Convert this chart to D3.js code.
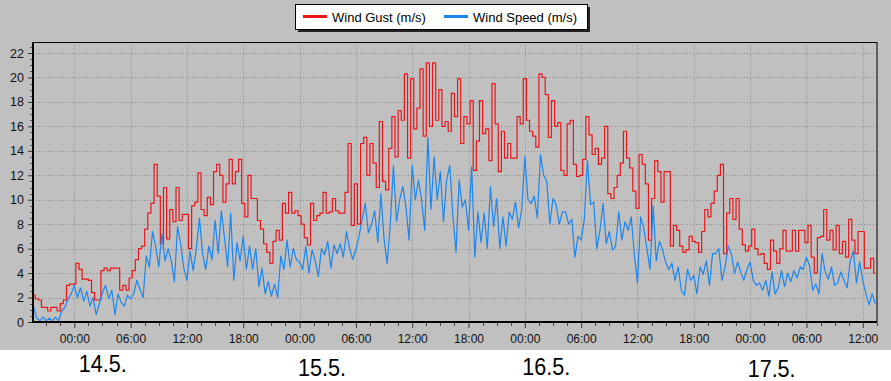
<!DOCTYPE html>
<html><head><meta charset="utf-8">
<script src="https://cdn.jsdelivr.net/npm/d3@7"></script>
<style>
html,body{margin:0;padding:0;background:#fff;}
svg{display:block;font-family:"Liberation Sans",Arial,sans-serif;}
</style></head><body>
<svg id="chart" width="891" height="381"></svg>
<script>
// ---------- data ----------
const seriesNames = ["Wind Gust (m/s)", "Wind Speed (m/s)"];
const seriesColors = ["#ec1418", "#1c86f0"];
const firstSample = "2014-05-13 19:40";   // 20-minute samples
const sampleStepMinutes = 20;
const gust = [
 2.2,1.9,1.8,1.2,1.2,0.9,1.2,1.2,0.9,1.5,1.8,3.0,3.1,3.1,
 4.8,4.3,3.5,3.5,3.4,2.4,1.8,1.8,4.2,4.4,4.2,4.4,4.4,4.4,2.6,3.0,2.6,
 3.6,4.2,5.1,6.0,6.2,7.6,8.9,9.7,12.9,10.3,6.4,11.0,6.8,9.2,8.2,11.0,8.3,8.8,8.8,6.0,9.5,9.8,12.2,
 9.2,8.7,10.2,9.6,12.3,12.9,12.0,9.8,11.3,13.3,11.3,12.3,13.3,9.7,8.6,12.0,10.1,10.1,8.3,7.6,
 6.4,5.7,4.8,6.6,7.5,6.7,9.7,8.9,10.6,8.9,9.1,8.7,8.0,6.9,6.3,9.7,8.3,8.7,8.9,10.6,
 8.9,9.0,10.1,9.1,8.9,8.9,10.6,14.6,7.9,11.3,8.0,14.6,15.1,12.0,
 14.6,13.0,11.0,16.4,11.5,10.8,14.2,16.8,13.5,17.3,16.5,20.3,13.4,19.9,15.8,17.5,20.7,15.2,21.2,16.0,
 21.2,16.5,19.0,16.0,16.4,15.6,18.7,16.8,19.9,14.6,16.8,16.2,18.1,12.4,14.8,18.1,15.4,15.8,13.2,19.5,
 16.2,12.3,15.6,13.4,14.6,13.4,13.4,16.8,16.2,19.9,16.5,15.6,15.2,14.3,20.3,
 20.0,18.6,15.1,18.1,16.0,16.3,12.4,12.0,16.2,16.5,12.9,11.9,12.0,13.3,16.8,15.3,13.7,14.2,12.9,13.4,
 16.0,10.5,10.1,11.0,12.0,13.0,15.6,13.4,12.6,10.7,9.3,13.7,12.9,11.3,6.7,10.1,13.2,12.3,9.8,12.3,
 12.3,6.2,7.9,7.5,6.2,5.7,5.9,7.0,6.6,6.5,5.7,7.4,9.2,8.6,9.7,
 10.7,12.0,12.9,5.6,8.9,10.1,8.4,10.1,7.6,6.3,5.8,6.2,7.6,6.0,5.5,5.6,4.8,4.3,6.7,5.8,
 4.8,6.0,7.5,5.8,5.8,7.5,5.8,7.5,7.5,6.5,7.9,5.3,4.0,6.9,7.0,9.2,6.7,7.5,5.9,7.9,
 5.6,6.6,5.3,8.4,6.7,5.6,7.4,7.4,4.4,4.4,5.2,4.0
];
const speed = [
 1.2,0.3,0.1,0.4,0.1,0.3,0.1,0.4,0.1,0.9,1.2,1.9,2.3,3.0,
 2.0,2.8,1.7,2.5,1.3,2.0,0.6,1.5,2.4,3.0,1.9,2.6,0.6,2.3,1.6,1.3,2.2,
 1.9,2.3,3.4,2.7,2.0,5.4,4.5,7.4,6.2,4.5,7.2,5.0,6.0,5.0,3.3,7.8,6.4,4.4,3.4,5.8,4.2,6.0,8.5,
 5.6,4.3,6.2,5.1,8.3,5.6,9.1,6.9,4.5,8.9,3.4,6.5,5.0,7.0,4.3,6.2,4.3,6.0,2.9,4.4,
 2.3,3.3,2.1,3.1,2.0,5.4,4.3,6.7,4.5,6.0,5.1,4.9,4.3,6.2,4.0,5.9,5.0,3.7,6.0,5.5,
 6.6,4.4,6.3,5.6,6.4,5.3,7.4,6.0,5.1,5.9,7.0,8.4,9.7,7.3,
 8.0,9.1,6.5,10.5,6.8,4.8,8.0,12.8,8.2,10.0,11.1,9.4,6.7,12.8,10.0,11.6,10.0,7.5,15.1,9.2,
 13.5,10.0,12.3,8.2,11.6,12.8,8.7,5.7,11.6,9.4,10.0,7.5,12.7,5.3,9.0,6.5,8.9,6.0,11.1,7.8,
 10.1,6.0,8.6,6.2,9.0,8.4,9.8,7.7,9.2,13.5,10.0,9.7,10.3,8.5,13.7,
 12.0,11.5,8.0,10.1,9.6,8.0,9.0,9.0,8.0,8.4,5.3,7.0,6.7,8.4,13.2,9.6,9.8,6.0,7.5,9.7,
 6.4,7.4,5.9,6.2,9.0,6.7,8.2,7.5,8.6,5.5,3.2,8.6,7.7,6.0,4.3,9.5,5.0,6.6,5.9,4.9,
 4.3,4.8,3.4,4.5,2.6,2.2,4.3,3.4,3.8,2.3,4.5,3.9,5.0,3.0,5.6,
 5.6,6.0,3.4,4.5,6.2,5.6,4.0,4.9,4.1,3.4,4.3,4.9,3.4,3.0,3.2,2.6,3.4,2.1,4.1,2.3,
 2.8,4.2,2.9,4.0,3.3,4.2,3.6,4.5,4.3,5.3,4.6,2.6,3.1,2.3,5.6,4.1,3.5,4.5,3.0,3.2,
 4.1,3.4,2.8,5.0,5.8,3.2,4.9,3.4,2.3,1.4,2.3,1.5
];
const yTickValues = [0,2,4,6,8,10,12,14,16,18,20,22];
const xTickFormat = "%H:%M";
const axisStart = "2014-05-13 19:36";
const axisEnd = "2014-05-17 13:31";
const dateLabels = ["14.5.","15.5.","16.5.","17.5."];
const dateLabelDays = ["2014-05-14","2014-05-15","2014-05-16","2014-05-17"];

// ---------- layout ----------
const W = 891, H = 381;
const plot = {left:33, right:877, top:42.5, bottom:322};
const parse = d3.timeParse("%Y-%m-%d %H:%M");
const parseDay = d3.timeParse("%Y-%m-%d");
const t0 = parse(firstSample);
const times = gust.map((_, i) => d3.timeMinute.offset(t0, i * sampleStepMinutes));

const x = d3.scaleTime().domain([parse(axisStart), parse(axisEnd)]).range([plot.left, plot.right]);
const y = d3.scaleLinear().domain([0, 22.86]).range([plot.bottom, plot.top]);

const svg = d3.select("#chart");
svg.append("rect").attr("x",0).attr("y",0).attr("width",W).attr("height",350).attr("fill","#c0c0c0");

// grid
const majorX = d3.timeHour.every(6).range(x.domain()[0], x.domain()[1]);
const grid = svg.append("g").attr("stroke","#8a8a8a").attr("stroke-dasharray","1,2").attr("stroke-width",1);
grid.selectAll("line.gx").data(majorX).join("line")
  .attr("x1", d => Math.round(x(d)) + 0.5).attr("x2", d => Math.round(x(d)) + 0.5)
  .attr("y1", plot.top).attr("y2", plot.bottom);
grid.selectAll("line.gy").data(yTickValues.filter(v => v > 0)).join("line")
  .attr("x1", plot.left).attr("x2", plot.right)
  .attr("y1", d => Math.round(y(d)) + 0.5).attr("y2", d => Math.round(y(d)) + 0.5);

// series
svg.append("clipPath").attr("id","clip").append("rect")
  .attr("x",plot.left).attr("y",plot.top).attr("width",plot.right-plot.left).attr("height",plot.bottom-plot.top);
const curves = [d3.curveStep, d3.curveLinear];
const lines = svg.append("g").attr("clip-path","url(#clip)").attr("fill","none");
[gust, speed].forEach((s, i) => {
  const line = d3.line().x((d,j) => x(times[j])).y(d => y(d)).curve(curves[i]);
  lines.append("path").datum(s).attr("d", line)
    .attr("stroke", seriesColors[i]).attr("stroke-width", 1.2).attr("stroke-linejoin","round");
});

// frame
svg.append("rect").attr("x",plot.left).attr("y",plot.top).attr("width",plot.right-plot.left).attr("height",plot.bottom-plot.top)
  .attr("fill","none").attr("stroke","#000").attr("stroke-width",1);
svg.append("line").attr("x1",plot.left).attr("x2",plot.left).attr("y1",plot.top).attr("y2",plot.bottom+1)
  .attr("stroke","#000").attr("stroke-width",2);
svg.append("line").attr("x1",plot.left-1).attr("x2",plot.right).attr("y1",plot.bottom).attr("y2",plot.bottom)
  .attr("stroke","#000").attr("stroke-width",2);

// x axis
const xAxis = d3.axisBottom(x).tickValues(majorX).tickFormat(d3.timeFormat(xTickFormat)).tickSize(5).tickPadding(6);
const gx = svg.append("g").attr("transform",`translate(0,${plot.bottom+1})`).call(xAxis);
gx.select(".domain").remove();
gx.selectAll(".tick line").attr("stroke","#333");
gx.selectAll("text").attr("font-size","12px").attr("fill","#111").attr("font-family","'Liberation Sans',Arial,sans-serif");
const minorX = [];
for (let t = parse("2014-05-13 18:00"); t <= x.domain()[1]; t = d3.timeMinute.offset(t, 90)) {
  if (t >= x.domain()[0] && (t.getHours()*60 + t.getMinutes()) % 360 !== 0) minorX.push(t);
}
svg.append("g").selectAll("line").data(minorX).join("line")
  .attr("x1", d => Math.round(x(d))+0.5).attr("x2", d => Math.round(x(d))+0.5)
  .attr("y1", plot.bottom+1).attr("y2", plot.bottom+4).attr("stroke","#444");

// y axis
const yAxis = d3.axisLeft(y).tickValues(yTickValues).tickSize(4).tickPadding(4);
const gy = svg.append("g").attr("transform",`translate(${plot.left-1},0)`).call(yAxis);
gy.select(".domain").remove();
gy.selectAll(".tick line").attr("stroke","#333");
gy.selectAll("text").attr("font-size","12.5px").attr("fill","#111").attr("font-family","'Liberation Sans',Arial,sans-serif");
const minorY = d3.range(0, 22.86, 0.5).filter(v => v % 2 !== 0);
svg.append("g").selectAll("line").data(minorY).join("line")
  .attr("x1", plot.left-3).attr("x2", plot.left-1)
  .attr("y1", d => Math.round(y(d))+0.5).attr("y2", d => Math.round(y(d))+0.5).attr("stroke","#555");

// date labels
const dateOffsets = [28.5, 22.5, 21.5, 21.5];
const dateBaselines = [372, 376, 375, 377];
svg.append("g").selectAll("text").data(dateLabels).join("text")
  .attr("x", (d,i) => x(parseDay(dateLabelDays[i])) + dateOffsets[i] - 24)
  .attr("y", (d,i) => dateBaselines[i])
  .attr("font-size","24px").attr("fill","#000")
  .attr("textLength", 48).attr("lengthAdjust","spacingAndGlyphs")
  .text(d => d);

// legend
const lg = svg.append("g").attr("transform","translate(295,4)");
lg.append("rect").attr("x",3).attr("y",3).attr("width",292).attr("height",25).attr("fill","#222");
lg.append("rect").attr("x",0.5).attr("y",0.5).attr("width",292).attr("height",25).attr("fill","#fff").attr("stroke","#000");
const legendItems = [{lx:8, tx:37}, {lx:149, tx:178}];
seriesNames.forEach((name, i) => {
  lg.append("line").attr("x1", legendItems[i].lx).attr("x2", legendItems[i].lx+24).attr("y1",12.5).attr("y2",12.5)
    .attr("stroke", seriesColors[i]).attr("stroke-width",3);
  lg.append("text").attr("x", legendItems[i].tx).attr("y", 17.5).attr("font-size","13px").attr("fill","#000").text(name);
});
</script>
</body></html>
